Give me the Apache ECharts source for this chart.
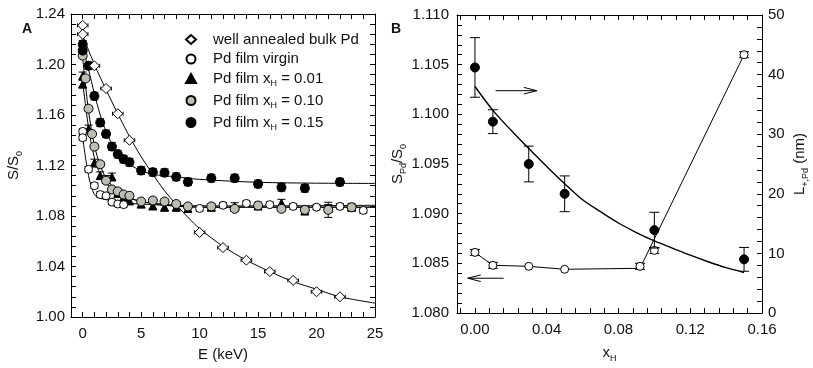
<!DOCTYPE html>
<html>
<head>
<meta charset="utf-8">
<script src="https://cdn.jsdelivr.net/npm/echarts@6/dist/echarts.min.js"></script>
<style>
  html, body { margin: 0; padding: 0; background: #fff; }
  #chart { width: 813px; height: 368px; }
</style>
</head>
<body>
<div id="chart"></div>
<script>
// ---------- panel A : S/S0 vs E ----------
const bulkE = [0, 0, 1, 2, 3, 4, 10, 12, 14, 16, 18, 20, 22];
const bulkS = [1.231, 1.224, 1.199, 1.181, 1.161, 1.140, 1.067, 1.055, 1.045, 1.036, 1.029, 1.020, 1.016];
const bulkErrE = [0.45, 0.45, 0.45, 0.45, 0.45, 0.45, 0.45, 0.45, 0.45, 0.45, 0.45, 0.45, 0.45];

const virginE = [0, 0, 0.5, 1, 1.5, 2, 2.5, 3, 3.5, 10, 12, 14, 16, 18, 20, 22, 24];
const virginS = [1.147, 1.142, 1.117, 1.104, 1.097, 1.096, 1.091, 1.0895, 1.089, 1.086, 1.0885, 1.090, 1.089, 1.0876, 1.087, 1.0876, 1.0844];
const virginErr = [0.002, 0.002, 0.002, 0.002, 0.002, 0.002, 0.002, 0.002, 0.002, 0.002, 0.002, 0.002, 0.002, 0.002, 0.002, 0.002, 0.002];

const x01E = [0, 0, 0.5, 1, 1.5, 2, 2.5, 3, 3.5, 4, 5, 6, 7, 8, 9, 11, 13, 15, 17, 19, 21, 23];
const x01S = [1.191, 1.1845, 1.149, 1.122, 1.112, 1.109, 1.111, 1.098, 1.095, 1.092, 1.0895, 1.088, 1.087, 1.087, 1.086, 1.087, 1.0875, 1.088, 1.0902, 1.084, 1.086, 1.087];
const x01Err = [0.003, 0.003, 0.003, 0.003, 0.003, 0.003, 0.003, 0.003, 0.003, 0.003, 0.003, 0.003, 0.003, 0.003, 0.003, 0.003, 0.003, 0.003, 0.003, 0.003, 0.003, 0.003];

const x10E = [0, 0.25, 0.5, 0.8, 1, 1.5, 2, 2.5, 3, 3.5, 4, 5, 6, 7, 8, 9, 11, 13, 15, 17, 19, 21, 23];
const x10S = [1.207, 1.189, 1.165, 1.145, 1.135, 1.121, 1.108, 1.101, 1.0995, 1.097, 1.096, 1.0915, 1.0923, 1.0915, 1.0895, 1.0876, 1.0876, 1.0857, 1.0883, 1.0857, 1.0849, 1.0849, 1.0869];
const x10Err = [0.002, 0.002, 0.002, 0.002, 0.002, 0.002, 0.002, 0.002, 0.002, 0.002, 0.002, 0.002, 0.002, 0.002, 0.002, 0.002, 0.002, 0.002, 0.002, 0.002, 0.002, 0.006, 0.002];

const x15E = [0, 0, 0.5, 1, 1.5, 2, 2.5, 3, 3.5, 4, 5, 6, 7, 8, 9, 11, 13, 15, 17, 19, 22];
const x15S = [1.216, 1.211, 1.199, 1.175, 1.154, 1.145, 1.135, 1.129, 1.125, 1.1226, 1.116, 1.1147, 1.1143, 1.111, 1.107, 1.110, 1.110, 1.1054, 1.1027, 1.102, 1.1069];
const x15Err = [0.003, 0.003, 0.003, 0.003, 0.003, 0.003, 0.003, 0.003, 0.003, 0.003, 0.003, 0.003, 0.003, 0.003, 0.003, 0.003, 0.003, 0.003, 0.003, 0.003, 0.003];

// fitted curves
const fitBulkE = [0, 1, 2, 3, 4, 5, 6, 7, 8, 9, 10, 12, 14, 16, 18, 20, 22, 25];
const fitBulkS = [1.223, 1.200, 1.180, 1.161, 1.143, 1.127, 1.113, 1.100, 1.089, 1.079, 1.070, 1.056, 1.045, 1.036, 1.028, 1.022, 1.016, 1.011];
const fitE = [0, 0.5, 1, 1.5, 2, 3, 4, 6, 10, 15, 25];
const fitVirginS = [1.142, 1.112, 1.097, 1.094, 1.093, 1.091, 1.090, 1.089, 1.087, 1.087, 1.087];
const fitX01S = [1.186, 1.150, 1.126, 1.113, 1.106, 1.098, 1.094, 1.090, 1.087, 1.087, 1.087];
const fitX10S = [1.205, 1.163, 1.136, 1.120, 1.110, 1.099, 1.094, 1.090, 1.088, 1.088, 1.0885];
const fitX15E = [0, 0.5, 1, 1.5, 2, 2.5, 3, 4, 5, 6, 8, 10, 15, 20, 25];
const fitX15S = [1.214, 1.196, 1.177, 1.160, 1.147, 1.137, 1.130, 1.121, 1.116, 1.113, 1.111, 1.109, 1.1067, 1.106, 1.1058];

const tickLabelsA = [0, 5, 10, 15, 20, 25];
const ticksA = [-1, 0, 1, 2, 3, 4, 5, 6, 7, 8, 9, 10, 11, 12, 13, 14, 15, 16, 17, 18, 19, 20, 21, 22, 23, 24, 25];

// ---------- panel B : S_Pd/S0 and L vs x_H ----------
const lX = [0, 0.01, 0.03, 0.05, 0.10, 0.15];
const lVal = [41.2, 32.1, 25.0, 20.0, 13.9, 9.0];
const lErr = [5.0, 2.0, 3.0, 3.0, 3.0, 2.0];
const fitLX = [0, 0.01, 0.02, 0.03, 0.04, 0.05, 0.06, 0.07, 0.08, 0.09, 0.10, 0.11, 0.12, 0.13, 0.14, 0.15];
const fitLVal = [38.0, 34.0, 30.7, 27.6, 24.6, 21.7, 19.0, 17.0, 15.1, 13.5, 12.1, 10.9, 9.7, 8.6, 7.6, 6.8];

const sX = [0, 0.01, 0.03, 0.05, 0.092, 0.10, 0.15];
const sVal = [1.0861, 1.0848, 1.0847, 1.0844, 1.0847, 1.0863, 1.1060];
const sErr = [0.0003, 0.0003, 0, 0, 0.0003, 0.0003, 0.0003];
const sLineX = [0, 0.01, 0.03, 0.05, 0.092, 0.15];
const sLineVal = [1.0861, 1.0848, 1.0847, 1.0844, 1.0845, 1.1060];

const tickLabelsB = [0, 0.04, 0.08, 0.12, 0.16];
const ticksB = [-0.008, 0, 0.008, 0.016, 0.024, 0.032, 0.04, 0.048, 0.056, 0.064, 0.072, 0.08,
  0.088, 0.096, 0.104, 0.112, 0.12, 0.128, 0.136, 0.144, 0.152, 0.16];

const FONT = "'Liberation Sans', Arial, Helvetica, sans-serif";
const INK = "#111";

const zip = (a, b) => a.map((v, i) => [v, b[i]]);

// error bars: one row per point, [x, y, lowY, highY, lowX, highX]
function errorSeries(xi, yi, xs, ys, dy, dx, z) {
  const rows = xs.map((x, i) => {
    const ey = dy ? dy[i] : 0, ex = dx ? dx[i] : 0;
    return [x, ys[i], ys[i] - ey, ys[i] + ey, x - ex, x + ex];
  });
  return {
    type: "custom",
    xAxisIndex: xi,
    yAxisIndex: yi,
    z: z || 1,
    silent: true,
    clip: false,
    data: rows,
    renderItem: (params, api) => {
      const r = rows[params.dataIndex];
      const x = r[0], y = r[1];
      const st = { stroke: "#000", lineWidth: 1 };
      const kids = [];
      const cap = xi === 2 ? 5 : 4;
      const a = api.coord([x, r[2]]), b = api.coord([x, r[3]]);
      if (Math.abs(a[1] - b[1]) > 0.5) {
        kids.push({ type: "line", shape: { x1: a[0], y1: a[1], x2: b[0], y2: b[1] }, style: st });
        kids.push({ type: "line", shape: { x1: a[0] - cap, y1: a[1], x2: a[0] + cap, y2: a[1] }, style: st });
        kids.push({ type: "line", shape: { x1: b[0] - cap, y1: b[1], x2: b[0] + cap, y2: b[1] }, style: st });
      }
      const c = api.coord([r[4], y]), d = api.coord([r[5], y]);
      if (Math.abs(c[0] - d[0]) > 0.5) {
        kids.push({ type: "line", shape: { x1: c[0], y1: c[1], x2: d[0], y2: d[1] }, style: st });
        kids.push({ type: "line", shape: { x1: c[0], y1: c[1] - 2, x2: c[0], y2: c[1] + 2 }, style: st });
        kids.push({ type: "line", shape: { x1: d[0], y1: d[1] - 2, x2: d[0], y2: d[1] + 2 }, style: st });
      }
      return { type: "group", children: kids };
    },
  };
}

function arrowSeries(xi, yi, from, to) {
  return {
    type: "custom",
    xAxisIndex: xi,
    yAxisIndex: yi,
    silent: true,
    data: [[from[0], from[1], to[0], to[1]]],
    renderItem: (params, api) => {
      const a = api.coord([api.value(0), api.value(1)]);
      const b = api.coord([api.value(2), api.value(3)]);
      const dir = b[0] > a[0] ? 1 : -1;
      const st = { stroke: "#000", lineWidth: 1, fill: null };
      return {
        type: "group",
        children: [
          { type: "line", shape: { x1: a[0], y1: a[1], x2: b[0], y2: b[1] }, style: st },
          {
            type: "polyline",
            shape: { points: [[b[0] - dir * 13, b[1] - 3.3], [b[0], b[1]], [b[0] - dir * 13, b[1] + 3.3]] },
            style: st,
          },
        ],
      };
    },
  };
}

function fitLine(xi, yi, xs, ys, width) {
  return {
    type: "line",
    xAxisIndex: xi,
    yAxisIndex: yi,
    data: zip(xs, ys),
    showSymbol: false,
    smooth: 0.3,
    silent: true,
    z: 2,
    lineStyle: { color: "#000", width: width || 1 },
  };
}

function marks(name, xi, yi, xs, ys, symbol, size, fill) {
  return {
    type: "scatter",
    name: name,
    xAxisIndex: xi,
    yAxisIndex: yi,
    data: zip(xs, ys),
    symbol: symbol,
    symbolSize: size,
    z: 3,
    itemStyle: { color: fill, borderColor: "#000", borderWidth: 1, opacity: 1 },
    emphasis: { disabled: true },
  };
}

const axisCommon = {
  axisLine: { show: true, onZero: false, lineStyle: { color: "#000", width: 1 } },
  axisTick: { show: true, inside: true, length: 5, lineStyle: { color: "#000" } },
  splitLine: { show: false },
  axisLabel: { color: INK, fontSize: 15, fontFamily: FONT },
  nameTextStyle: { color: INK, fontSize: 15, fontFamily: FONT },
};

const sub = { fontSize: 9, lineHeight: 9, verticalAlign: "bottom", fontFamily: FONT, color: INK };
const big = { fontSize: 15, lineHeight: 20, fontFamily: FONT, color: INK };
const first = { ...big, padding: [0, 0, 0, 12] };

const legendLabels = {
  bulk: "{f|well annealed bulk Pd}",
  virgin: "{f|Pd film virgin}",
  x01: "{f|Pd film x}{s|H}{t| = 0.01}",
  x10: "{f|Pd film x}{s|H}{t| = 0.10}",
  x15: "{f|Pd film x}{s|H}{t| = 0.15}",
};

const chart = echarts.init(document.getElementById("chart"), null, { renderer: "canvas" });

const option = {
  animation: false,
  backgroundColor: "#fff",
  title: [
    { text: "A", left: 17, top: 17, textStyle: { fontSize: 14, fontWeight: "bold", fontFamily: FONT, color: INK } },
    { text: "B", left: 386, top: 17, textStyle: { fontSize: 14, fontWeight: "bold", fontFamily: FONT, color: INK } },
  ],
  grid: [
    { left: 71, top: 14, width: 304, height: 303 },
    { left: 457, top: 15, width: 305, height: 302 },
  ],
  legend: {
    data: ["bulk", "virgin", "x01", "x10", "x15"],
    orient: "vertical",
    left: 180,
    top: 27,
    itemWidth: 10,
    itemHeight: 9,
    itemGap: 4.5,
    selectedMode: false,
    formatter: (name) => legendLabels[name],
    textStyle: { rich: { f: first, t: big, s: sub } },
  },
  xAxis: [
    {
      ...axisCommon,
      gridIndex: 0, type: "value", min: -1, max: 25, position: "bottom",
      axisTick: { ...axisCommon.axisTick, customValues: ticksA },
      axisLabel: { ...axisCommon.axisLabel, margin: 9, customValues: tickLabelsA },
      name: "E (keV)", nameLocation: "middle", nameGap: 30,
    },
    {
      ...axisCommon,
      gridIndex: 0, type: "value", min: -1, max: 25, position: "top",
      axisTick: { ...axisCommon.axisTick, customValues: ticksA },
      axisLabel: { show: false },
    },
    {
      ...axisCommon,
      gridIndex: 1, type: "value", min: -0.01, max: 0.16, position: "bottom",
      axisTick: { ...axisCommon.axisTick, customValues: ticksB },
      axisLabel: { ...axisCommon.axisLabel, margin: 9, customValues: tickLabelsB, formatter: (v) => v.toFixed(2) },
      name: "{t|x}{s|H}", nameLocation: "middle", nameGap: 30,
      nameTextStyle: { ...axisCommon.nameTextStyle, rich: { t: big, s: sub } },
    },
    {
      ...axisCommon,
      gridIndex: 1, type: "value", min: -0.01, max: 0.16, position: "top",
      axisTick: { ...axisCommon.axisTick, customValues: ticksB },
      axisLabel: { show: false },
    },
  ],
  yAxis: [
    {
      ...axisCommon,
      gridIndex: 0, type: "value", min: 1.0, max: 1.24, interval: 0.04, position: "left",
      minorTick: { show: true, splitNumber: 5, length: 5, lineStyle: { color: "#000" } },
      axisLabel: { ...axisCommon.axisLabel, margin: 6, formatter: (v) => v.toFixed(2) },
      name: "{t|S/S}{s|0}", nameLocation: "middle", nameGap: 47,
      nameTextStyle: { ...axisCommon.nameTextStyle, rich: { t: big, s: sub } },
    },
    {
      ...axisCommon,
      gridIndex: 0, type: "value", min: 1.0, max: 1.24, interval: 0.04, position: "right",
      minorTick: { show: true, splitNumber: 5, length: 5, lineStyle: { color: "#000" } },
      axisLabel: { show: false },
    },
    {
      ...axisCommon,
      gridIndex: 1, type: "value", min: 1.08, max: 1.11, interval: 0.005, position: "left",
      minorTick: { show: true, splitNumber: 5, length: 5, lineStyle: { color: "#000" } },
      axisLabel: { ...axisCommon.axisLabel, margin: 8, formatter: (v) => v.toFixed(3) },
      name: "{t|S}{s|Pd}{t|/S}{s|0}", nameLocation: "middle", nameGap: 46,
      nameTextStyle: { ...axisCommon.nameTextStyle, rich: { t: big, s: sub } },
    },
    {
      ...axisCommon,
      gridIndex: 1, type: "value", min: 0, max: 50, interval: 10, position: "right",
      minorTick: { show: true, splitNumber: 5, length: 5, lineStyle: { color: "#000" } },
      axisLabel: { ...axisCommon.axisLabel, margin: 6 },
      name: "{t|L}{s|+,Pd}{t| (nm)}", nameLocation: "middle", nameGap: 28,
      nameTextStyle: { ...axisCommon.nameTextStyle, rich: { t: big, s: sub } },
    },
  ],
  series: [
    // panel A fits
    fitLine(0, 0, fitBulkE, fitBulkS),
    fitLine(0, 0, fitE, fitVirginS),
    fitLine(0, 0, fitE, fitX01S),
    fitLine(0, 0, fitE, fitX10S),
    fitLine(0, 0, fitX15E, fitX15S),
    // panel A error bars
    errorSeries(0, 0, bulkE, bulkS, null, bulkErrE),
    errorSeries(0, 0, virginE, virginS, virginErr, null),
    errorSeries(0, 0, x01E, x01S, x01Err, null),
    errorSeries(0, 0, x10E, x10S, x10Err, null),
    errorSeries(0, 0, x15E, x15S, x15Err, null),
    // panel A markers
    marks("x01", 0, 0, x01E, x01S, "triangle", 8, "#000"),
    marks("x10", 0, 0, x10E, x10S, "circle", 9, "#bdbdb5"),
    marks("virgin", 0, 0, virginE, virginS, "circle", 8, "#fff"),
    marks("x15", 0, 0, x15E, x15S, "circle", 9, "#000"),
    marks("bulk", 0, 0, bulkE, bulkS, "diamond", 10, "#fff"),
    // panel B
    fitLine(2, 3, fitLX, fitLVal, 1.4),
    {
      type: "line", xAxisIndex: 2, yAxisIndex: 2, data: zip(sLineX, sLineVal),
      showSymbol: false, silent: true, z: 2, lineStyle: { color: "#000", width: 1 },
    },
    errorSeries(2, 2, sX, sVal, sErr, null),
    marks("lpd", 2, 3, lX, lVal, "circle", 9, "#000"),
    errorSeries(2, 3, lX, lVal, lErr, null, 10),
    marks("spd", 2, 2, sX, sVal, "circle", 8, "#fff"),
    arrowSeries(2, 3, [0.0115, 37.3], [0.0345, 37.3]),
    arrowSeries(2, 2, [0.016, 1.0835], [-0.004, 1.0835]),
  ],
};

chart.setOption(option);
</script>
</body>
</html>
